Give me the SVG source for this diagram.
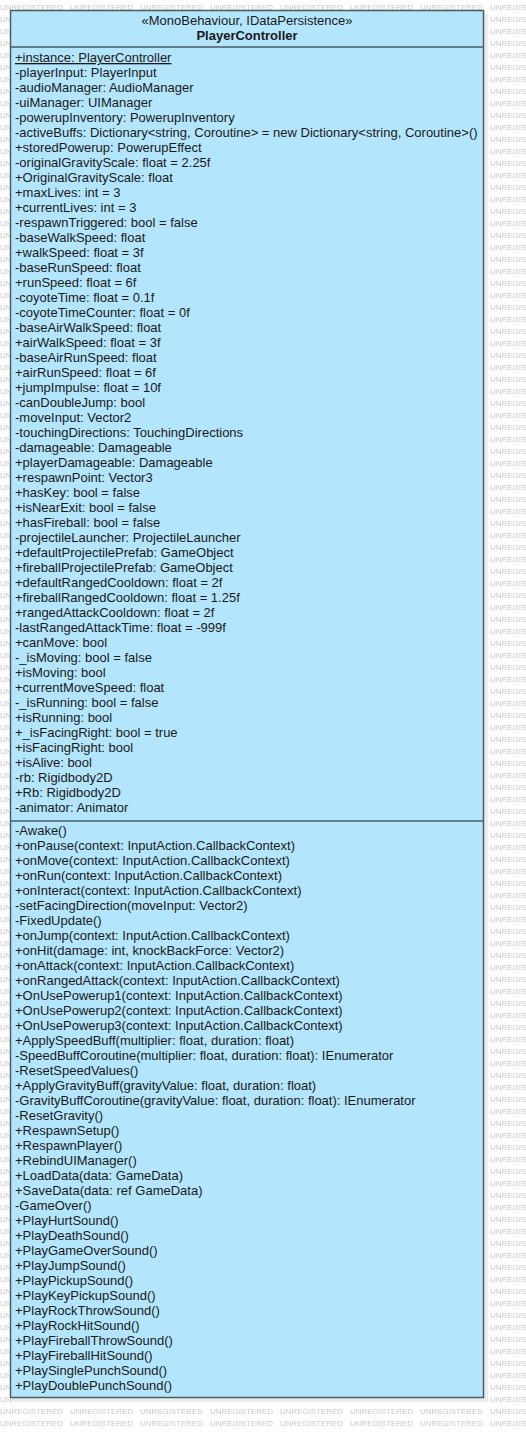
<svg xmlns="http://www.w3.org/2000/svg" width="526" height="1439" viewBox="0 0 526 1439">
<style>
.t{font-family:"Liberation Sans",Arial,sans-serif;font-size:13px;fill:#1a1a1a}
.h{font-family:"Liberation Sans",Arial,sans-serif;font-size:13px;fill:#1a1a1a;text-anchor:middle}
.b{font-weight:bold}
.wm{font-family:"Liberation Sans",Arial,sans-serif;font-size:8px;fill:#c8c8c8}
.box{fill:#b3e5fc;stroke:#4d5b66;stroke-width:1.5}
.div{stroke:#4d5b66;stroke-width:1.5}
</style>
<defs>
<pattern id="wmp" patternUnits="userSpaceOnUse" x="0" y="0" width="70" height="12">
<text class="wm" x="0" y="10" textLength="63" lengthAdjust="spacingAndGlyphs">UNREGISTERED</text>
</pattern>
</defs>
<rect width="526" height="1439" fill="#ffffff"/>
<rect width="526" height="1432" fill="url(#wmp)"/>
<g id="connectors"></g>
<g id="PlayerController">
<rect x="14" y="14" width="474" height="1388" fill="#ececec"/>
<rect class="box" x="10.5" y="10.5" width="473" height="1387"/>
<text class="h" x="247" y="25">«MonoBehaviour, IDataPersistence»</text>
<text class="h b" x="247" y="40">PlayerController</text>
<line class="div" x1="10.5" y1="47" x2="483.5" y2="47"/>
<text class="t" x="15" y="62" text-decoration="underline">+instance: PlayerController</text>
<text class="t" x="15" y="77">-playerInput: PlayerInput</text>
<text class="t" x="15" y="92">-audioManager: AudioManager</text>
<text class="t" x="15" y="107">-uiManager: UIManager</text>
<text class="t" x="15" y="122">-powerupInventory: PowerupInventory</text>
<text class="t" x="15" y="137">-activeBuffs: Dictionary&lt;string, Coroutine&gt; = new Dictionary&lt;string, Coroutine&gt;()</text>
<text class="t" x="15" y="152">+storedPowerup: PowerupEffect</text>
<text class="t" x="15" y="167">-originalGravityScale: float = 2.25f</text>
<text class="t" x="15" y="182">+OriginalGravityScale: float</text>
<text class="t" x="15" y="197">+maxLives: int = 3</text>
<text class="t" x="15" y="212">+currentLives: int = 3</text>
<text class="t" x="15" y="227">-respawnTriggered: bool = false</text>
<text class="t" x="15" y="242">-baseWalkSpeed: float</text>
<text class="t" x="15" y="257">+walkSpeed: float = 3f</text>
<text class="t" x="15" y="272">-baseRunSpeed: float</text>
<text class="t" x="15" y="287">+runSpeed: float = 6f</text>
<text class="t" x="15" y="302">-coyoteTime: float = 0.1f</text>
<text class="t" x="15" y="317">-coyoteTimeCounter: float = 0f</text>
<text class="t" x="15" y="332">-baseAirWalkSpeed: float</text>
<text class="t" x="15" y="347">+airWalkSpeed: float = 3f</text>
<text class="t" x="15" y="362">-baseAirRunSpeed: float</text>
<text class="t" x="15" y="377">+airRunSpeed: float = 6f</text>
<text class="t" x="15" y="392">+jumpImpulse: float = 10f</text>
<text class="t" x="15" y="407">-canDoubleJump: bool</text>
<text class="t" x="15" y="422">-moveInput: Vector2</text>
<text class="t" x="15" y="437">-touchingDirections: TouchingDirections</text>
<text class="t" x="15" y="452">-damageable: Damageable</text>
<text class="t" x="15" y="467">+playerDamageable: Damageable</text>
<text class="t" x="15" y="482">+respawnPoint: Vector3</text>
<text class="t" x="15" y="497">+hasKey: bool = false</text>
<text class="t" x="15" y="512">+isNearExit: bool = false</text>
<text class="t" x="15" y="527">+hasFireball: bool = false</text>
<text class="t" x="15" y="542">-projectileLauncher: ProjectileLauncher</text>
<text class="t" x="15" y="557">+defaultProjectilePrefab: GameObject</text>
<text class="t" x="15" y="572">+fireballProjectilePrefab: GameObject</text>
<text class="t" x="15" y="587">+defaultRangedCooldown: float = 2f</text>
<text class="t" x="15" y="602">+fireballRangedCooldown: float = 1.25f</text>
<text class="t" x="15" y="617">+rangedAttackCooldown: float = 2f</text>
<text class="t" x="15" y="632">-lastRangedAttackTime: float = -999f</text>
<text class="t" x="15" y="647">+canMove: bool</text>
<text class="t" x="15" y="662">-_isMoving: bool = false</text>
<text class="t" x="15" y="677">+isMoving: bool</text>
<text class="t" x="15" y="692">+currentMoveSpeed: float</text>
<text class="t" x="15" y="707">-_isRunning: bool = false</text>
<text class="t" x="15" y="722">+isRunning: bool</text>
<text class="t" x="15" y="737">+_isFacingRight: bool = true</text>
<text class="t" x="15" y="752">+isFacingRight: bool</text>
<text class="t" x="15" y="767">+isAlive: bool</text>
<text class="t" x="15" y="782">-rb: Rigidbody2D</text>
<text class="t" x="15" y="797">+Rb: Rigidbody2D</text>
<text class="t" x="15" y="812">-animator: Animator</text>
<line class="div" x1="10.5" y1="821" x2="483.5" y2="821"/>
<text class="t" x="15" y="835">-Awake()</text>
<text class="t" x="15" y="850">+onPause(context: InputAction.CallbackContext)</text>
<text class="t" x="15" y="865">+onMove(context: InputAction.CallbackContext)</text>
<text class="t" x="15" y="880">+onRun(context: InputAction.CallbackContext)</text>
<text class="t" x="15" y="895">+onInteract(context: InputAction.CallbackContext)</text>
<text class="t" x="15" y="910">-setFacingDirection(moveInput: Vector2)</text>
<text class="t" x="15" y="925">-FixedUpdate()</text>
<text class="t" x="15" y="940">+onJump(context: InputAction.CallbackContext)</text>
<text class="t" x="15" y="955">+onHit(damage: int, knockBackForce: Vector2)</text>
<text class="t" x="15" y="970">+onAttack(context: InputAction.CallbackContext)</text>
<text class="t" x="15" y="985">+onRangedAttack(context: InputAction.CallbackContext)</text>
<text class="t" x="15" y="1000">+OnUsePowerup1(context: InputAction.CallbackContext)</text>
<text class="t" x="15" y="1015">+OnUsePowerup2(context: InputAction.CallbackContext)</text>
<text class="t" x="15" y="1030">+OnUsePowerup3(context: InputAction.CallbackContext)</text>
<text class="t" x="15" y="1045">+ApplySpeedBuff(multiplier: float, duration: float)</text>
<text class="t" x="15" y="1060">-SpeedBuffCoroutine(multiplier: float, duration: float): IEnumerator</text>
<text class="t" x="15" y="1075">-ResetSpeedValues()</text>
<text class="t" x="15" y="1090">+ApplyGravityBuff(gravityValue: float, duration: float)</text>
<text class="t" x="15" y="1105">-GravityBuffCoroutine(gravityValue: float, duration: float): IEnumerator</text>
<text class="t" x="15" y="1120">-ResetGravity()</text>
<text class="t" x="15" y="1135">+RespawnSetup()</text>
<text class="t" x="15" y="1150">+RespawnPlayer()</text>
<text class="t" x="15" y="1165">+RebindUIManager()</text>
<text class="t" x="15" y="1180">+LoadData(data: GameData)</text>
<text class="t" x="15" y="1195">+SaveData(data: ref GameData)</text>
<text class="t" x="15" y="1210">-GameOver()</text>
<text class="t" x="15" y="1225">+PlayHurtSound()</text>
<text class="t" x="15" y="1240">+PlayDeathSound()</text>
<text class="t" x="15" y="1255">+PlayGameOverSound()</text>
<text class="t" x="15" y="1270">+PlayJumpSound()</text>
<text class="t" x="15" y="1285">+PlayPickupSound()</text>
<text class="t" x="15" y="1300">+PlayKeyPickupSound()</text>
<text class="t" x="15" y="1315">+PlayRockThrowSound()</text>
<text class="t" x="15" y="1330">+PlayRockHitSound()</text>
<text class="t" x="15" y="1345">+PlayFireballThrowSound()</text>
<text class="t" x="15" y="1360">+PlayFireballHitSound()</text>
<text class="t" x="15" y="1375">+PlaySinglePunchSound()</text>
<text class="t" x="15" y="1390">+PlayDoublePunchSound()</text>
</g>
</svg>
